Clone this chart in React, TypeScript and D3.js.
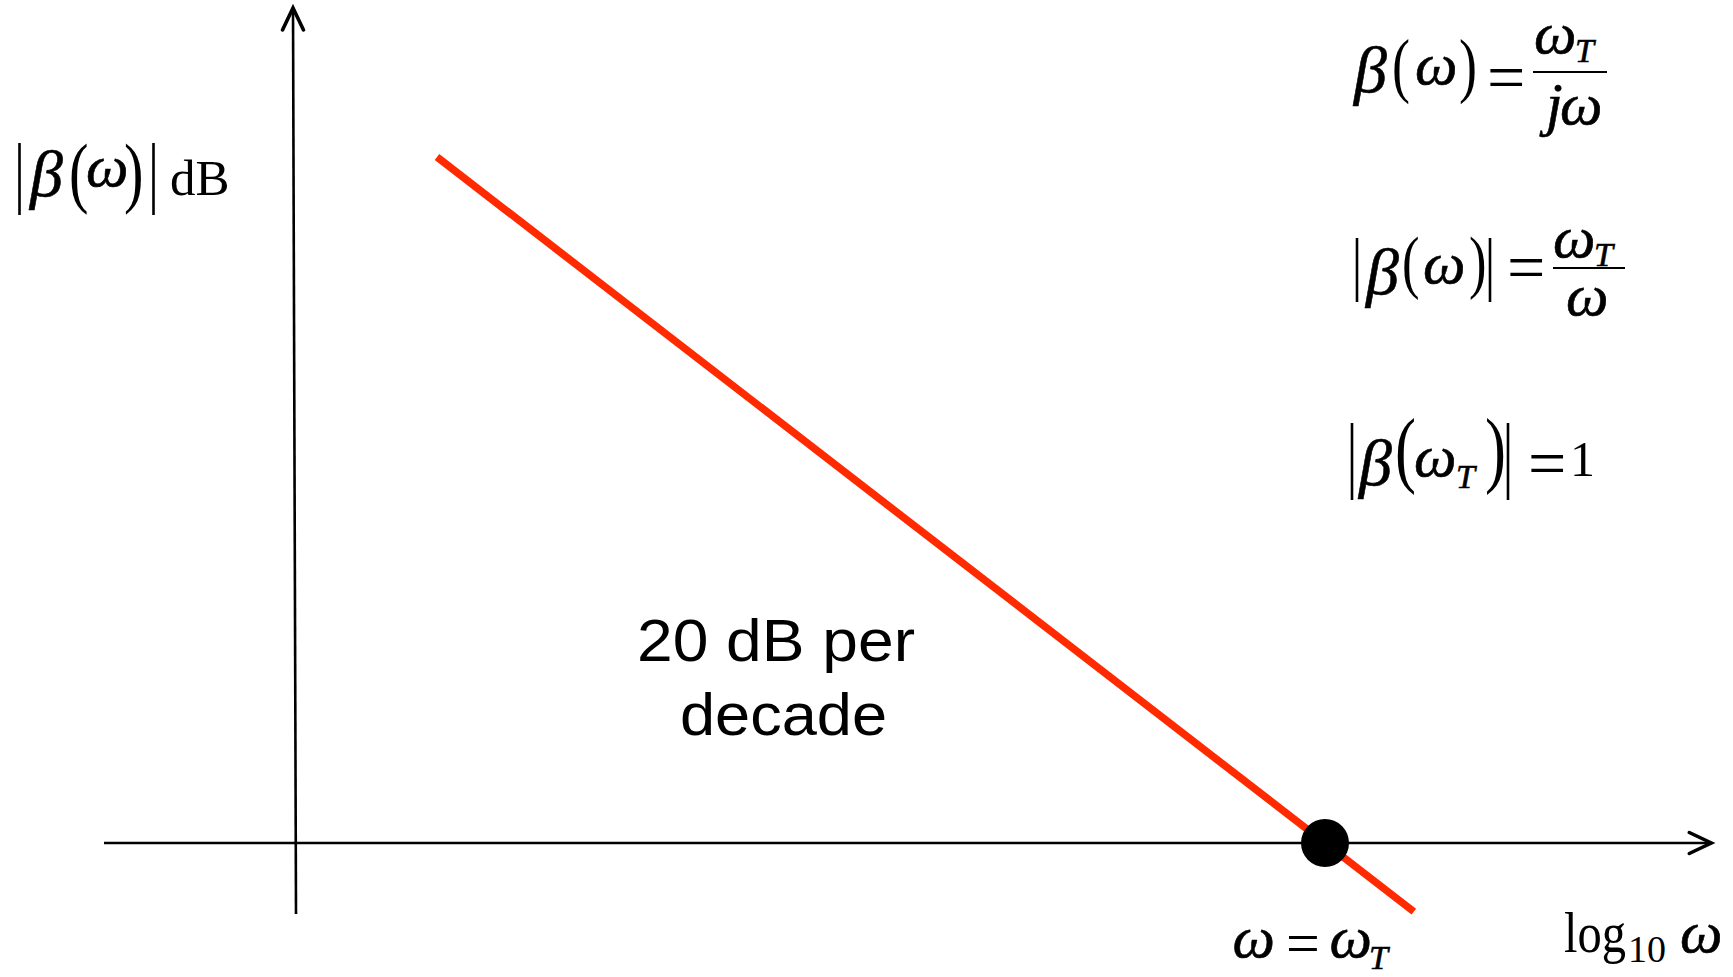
import React from "react";
import * as d3 from "d3";

// ---- data ----
const lineLogOmega = [0, 4.4];      // log10(omega) at the ends of the red asymptote
const lineDb = [80, -8];            // |beta| in dB at those ends
const crossLogOmega = [4];          // omega = omega_T
const crossDb = [0];
const midText = ["20 dB per", "decade"];

const W = 1733;
const H = 977;

const x = d3.scaleLinear().domain([0, 4]).range([437, 1325]);
const y = d3.scaleLinear().domain([0, 80]).range([843, 157]);

const SERIF = "'Liberation Serif', 'Times New Roman', serif";
const SANS = "'Liberation Sans', Arial, sans-serif";

type G = { t: string; x: number; y: number; s: number; i?: boolean; len?: number };

const Glyphs = ({ items }: { items: G[] }) => (
  <>
    {items.map((g, k) => {
      const isParen = g.t === "(" || g.t === ")";
      const len = g.len ?? (isParen ? g.s * 0.25 : undefined);
      return (
        <text
          key={k}
          x={g.x}
          y={g.y}
          fontFamily={SERIF}
          fontSize={g.s}
          fontStyle={g.i ? "italic" : "normal"}
          fill="#000"
          stroke={g.i ? "#000" : "none"}
          strokeWidth={g.i ? 0.6 : 0}
          textLength={len}
          lengthAdjust={len ? "spacingAndGlyphs" : undefined}
        >
          {g.t}
        </text>
      );
    })}
  </>
);

const Bar = ({ x0, y0, y1 }: { x0: number; y0: number; y1: number }) => (
  <line x1={x0} x2={x0} y1={y0} y2={y1} stroke="#000" strokeWidth={2.6} />
);

const Frac = ({ x0, x1, y0 }: { x0: number; x1: number; y0: number }) => (
  <line x1={x0} x2={x1} y1={y0} y2={y0} stroke="#000" strokeWidth={2.2} />
);

export default function App() {
  const lineData = lineLogOmega.map((v, i) => [v, lineDb[i]] as [number, number]);
  const path = d3
    .line<[number, number]>()
    .x((d) => x(d[0]))
    .y((d) => y(d[1]))(lineData);

  const axisY0 = y(0);
  const xLeft = x(-1.5);
  const xRight = x(5.74);

  return (
    <svg
      width={W}
      height={H}
      style={{ position: "fixed", left: 0, top: 0, background: "#fff" }}
    >
      <rect x={0} y={0} width={W} height={H} fill="#fff" />
      {/* x axis */}
      <line x1={xLeft} x2={xRight} y1={axisY0} y2={axisY0} stroke="#000" strokeWidth={2.6} />
      <polyline
        points={`${xRight - 22},${axisY0 - 10.5} ${xRight},${axisY0} ${xRight - 22},${axisY0 + 10.5}`}
        fill="none"
        stroke="#000"
        strokeWidth={3.6}
        strokeLinecap="round"
      />
      {/* y axis */}
      <line x1={293} x2={296} y1={8} y2={914} stroke="#000" strokeWidth={2.6} />
      <polyline
        points={`${282.5},${30} ${293},${8} ${303.5},${30}`}
        fill="none"
        stroke="#000"
        strokeWidth={3.6}
        strokeLinecap="round"
      />

      {/* red asymptote */}
      <path d={path || ""} stroke="#ff2a00" strokeWidth={7.5} fill="none" />

      {/* crossing point */}
      {crossLogOmega.map((v, i) => (
        <circle key={i} cx={x(v)} cy={y(crossDb[i])} r={24} fill="#000" />
      ))}

      {/* middle text */}
      <text x={637} y={661} fontFamily={SANS} fontSize={60} fill="#000" textLength={278} lengthAdjust="spacingAndGlyphs">
        {midText[0]}
      </text>
      <text x={680} y={735} fontFamily={SANS} fontSize={60} fill="#000" textLength={207} lengthAdjust="spacingAndGlyphs">
        {midText[1]}
      </text>

      {/* y label |beta(omega)| dB */}
      <Bar x0={19.5} y0={143} y1={215} />
      <Glyphs
        items={[
          { t: "β", x: 30, y: 196, s: 66, i: true },
          { t: "(", x: 69, y: 198, s: 78 },
          { t: "ω", x: 86, y: 186, s: 60, i: true },
          { t: ")", x: 124, y: 198, s: 78 },
          { t: "dB", x: 170, y: 195, s: 51 },
        ]}
      />
      <Bar x0={153.5} y0={143} y1={215} />

      {/* eq 1: beta(omega) = omega_T / j omega */}
      <Glyphs
        items={[
          { t: "β", x: 1354, y: 92, s: 66, i: true },
          { t: "(", x: 1392, y: 89, s: 72 },
          { t: "ω", x: 1415, y: 84, s: 60, i: true },
          { t: ")", x: 1459, y: 89, s: 72 },
          { t: "=", x: 1487, y: 100, s: 68 },
          { t: "ω", x: 1534, y: 53, s: 60, i: true },
          { t: "T", x: 1575, y: 62, s: 34, i: true },
          { t: "j", x: 1546, y: 124, s: 60, i: true },
          { t: "ω", x: 1560, y: 124, s: 60, i: true },
        ]}
      />
      <Frac x0={1533} x1={1607} y0={72} />

      {/* eq 2: |beta(omega)| = omega_T / omega */}
      <Bar x0={1357} y0={238} y1={302} />
      <Glyphs
        items={[
          { t: "β", x: 1366, y: 294, s: 66, i: true },
          { t: "(", x: 1402, y: 285, s: 70 },
          { t: "ω", x: 1423, y: 283, s: 60, i: true },
          { t: ")", x: 1469, y: 285, s: 70 },
          { t: "=", x: 1507, y: 290, s: 68 },
          { t: "ω", x: 1553, y: 257, s: 60, i: true },
          { t: "T", x: 1594, y: 266, s: 34, i: true },
          { t: "ω", x: 1566, y: 315, s: 60, i: true },
        ]}
      />
      <Bar x0={1490} y0={238} y1={302} />
      <Frac x0={1553} x1={1625} y0={268} />

      {/* eq 3: |beta(omega_T)| = 1 */}
      <Bar x0={1352} y0={423} y1={500} />
      <Glyphs
        items={[
          { t: "β", x: 1359, y: 485, s: 66, i: true },
          { t: "(", x: 1395, y: 477, s: 84 },
          { t: "ω", x: 1414, y: 476, s: 60, i: true },
          { t: "T", x: 1456, y: 488, s: 34, i: true },
          { t: ")", x: 1485, y: 477, s: 84 },
          { t: "=", x: 1528, y: 486, s: 68 },
          { t: "1", x: 1570, y: 476, s: 50 },
        ]}
      />
      <Bar x0={1508} y0={423} y1={500} />

      {/* bottom: omega = omega_T */}
      <Glyphs
        items={[
          { t: "ω", x: 1232.5, y: 957, s: 60, i: true },
          { t: "=", x: 1286, y: 963, s: 60 },
          { t: "ω", x: 1329.5, y: 957, s: 60, i: true },
          { t: "T", x: 1369, y: 969, s: 34, i: true },
        ]}
      />

      {/* log10 omega */}
      <Glyphs
        items={[
          { t: "log", x: 1564, y: 952, s: 56, len: 62 },
          { t: "10", x: 1628, y: 962, s: 38 },
          { t: "ω", x: 1680, y: 952, s: 60, i: true },
        ]}
      />
    </svg>
  );
}
